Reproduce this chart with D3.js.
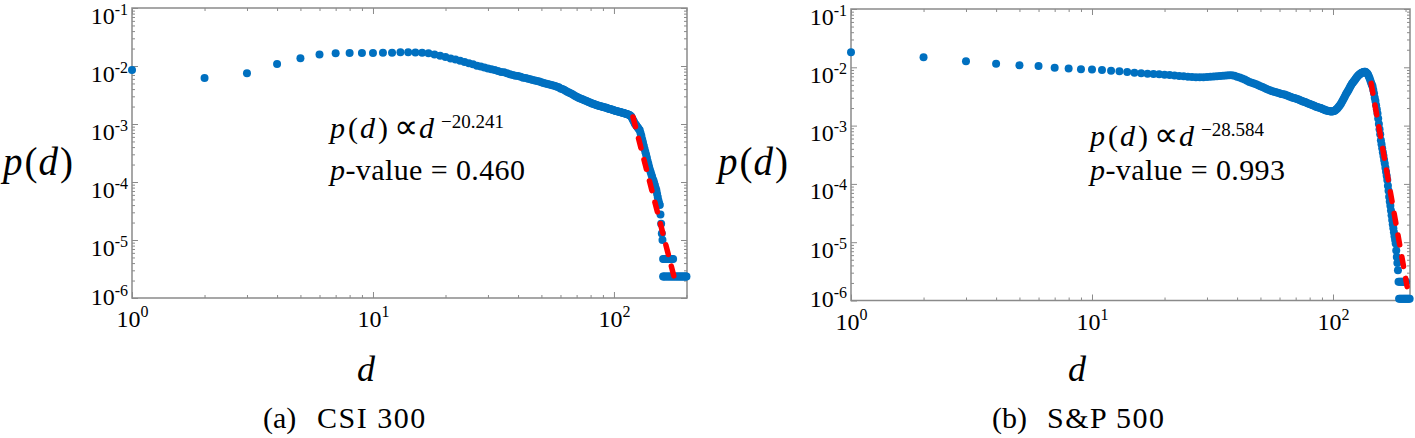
<!DOCTYPE html>
<html><head><meta charset="utf-8">
<script src="https://cdn.jsdelivr.net/npm/d3@7"></script>
<style>
html,body{margin:0;padding:0;background:#fff;}
svg{display:block;font-family:"Liberation Serif","Times New Roman",serif;}
</style></head><body>
<svg id="chart" width="1415" height="438"></svg>
<script>
// ---------------- DATA ----------------
// CSI 300: p(d) for d = 1 .. 159
const csiP = [
 8.5e-3,6.2e-3,7.5e-3,1.08e-2,1.36e-2,1.58e-2,1.66e-2,1.67e-2,1.67e-2,1.68e-2,
 1.69e-2,1.70e-2,1.72e-2,1.72e-2,1.71e-2,1.69e-2,1.66e-2,1.58e-2,1.50e-2,1.43e-2,
 1.35e-2,1.29e-2,1.23e-2,1.17e-2,1.12e-2,1.07e-2,1.01e-2,9.8e-3,9.4e-3,9.1e-3,
 8.8e-3,8.5e-3,8.2e-3,7.9e-3,7.8e-3,7.5e-3,7.2e-3,7.0e-3,6.8e-3,6.7e-3,
 6.5e-3,6.3e-3,6.2e-3,6.0e-3,5.9e-3,5.75e-3,5.6e-3,5.5e-3,5.4e-3,5.25e-3,
 5.1e-3,5.0e-3,4.9e-3,4.8e-3,4.7e-3,4.6e-3,4.5e-3,4.4e-3,4.3e-3,4.1e-3,
 4.0e-3,3.9e-3,3.75e-3,3.6e-3,3.5e-3,3.4e-3,3.3e-3,3.15e-3,3.05e-3,2.95e-3,
 2.85e-3,2.77e-3,2.72e-3,2.66e-3,2.6e-3,2.54e-3,2.48e-3,2.43e-3,2.37e-3,2.32e-3,
 2.26e-3,2.24e-3,2.19e-3,2.14e-3,2.11e-3,2.09e-3,2.04e-3,2.02e-3,2.0e-3,1.97e-3,
 1.95e-3,1.93e-3,1.9e-3,1.86e-3,1.84e-3,1.82e-3,1.8e-3,1.78e-3,1.74e-3,1.72e-3,
 1.70e-3,1.68e-3,1.66e-3,1.65e-3,1.63e-3,1.61e-3,1.59e-3,1.57e-3,1.56e-3,1.54e-3,
 1.52e-3,1.50e-3,1.49e-3,1.47e-3,1.45e-3,1.43e-3,1.39e-3,1.35e-3,1.26e-3,1.17e-3,
 1.10e-3,1.02e-3,9.8e-4,9.3e-4,8.9e-4,8.5e-4,8.1e-4,7.8e-4,6.9e-4,6.2e-4,
 5.4e-4,4.8e-4,4.2e-4,3.7e-4,3.3e-4,2.95e-4,2.63e-4,2.29e-4,2.04e-4,1.82e-4,
 1.62e-4,1.48e-4,1.35e-4,1.23e-4,1.12e-4,1.05e-4,9.5e-5,8.7e-5,7.9e-5,7.2e-5,
 6.3e-5,5.5e-5,4.8e-5,4.3e-5,4.0e-5,2.75e-5,1.9e-5,1.3e-5,1.0e-5
];
const csiTailD = [160,162,164,166,168,170,172,174,176,
                  160,161,163,165,167,169,171,173,175,177,179,181,183,185,187,189,191,193,195,197,199,200];
const csiTailP = [4.7e-6,4.7e-6,4.7e-6,4.7e-6,4.7e-6,4.7e-6,4.7e-6,4.7e-6,4.7e-6,
                  2.35e-6,2.35e-6,2.35e-6,2.35e-6,2.35e-6,2.35e-6,2.35e-6,2.35e-6,2.35e-6,2.35e-6,2.35e-6,
                  2.35e-6,2.35e-6,2.35e-6,2.35e-6,2.35e-6,2.35e-6,2.35e-6,2.35e-6,2.35e-6,2.35e-6,2.35e-6];
const csiFitD = [120, 179];
const csiFitP = [1.32e-3, 2.04e-6];

// S&P 500: p(d) for d = 1 .. 186
const spP = [
 1.81e-2,1.48e-2,1.27e-2,1.15e-2,1.08e-2,1.05e-2,9.8e-3,9.5e-3,9.3e-3,9.2e-3,
 9.0e-3,8.75e-3,8.55e-3,8.3e-3,8.1e-3,7.9e-3,7.75e-3,7.7e-3,7.6e-3,7.45e-3,
 7.35e-3,7.25e-3,7.1e-3,7.0e-3,6.9e-3,6.85e-3,6.75e-3,6.75e-3,6.75e-3,6.8e-3,
 6.9e-3,6.95e-3,7.0e-3,7.1e-3,7.15e-3,7.25e-3,7.3e-3,7.3e-3,7.15e-3,6.9e-3,
 6.7e-3,6.4e-3,6.15e-3,5.9e-3,5.6e-3,5.45e-3,5.25e-3,5.1e-3,4.9e-3,4.75e-3,
 4.6e-3,4.4e-3,4.25e-3,4.1e-3,4.0e-3,3.9e-3,3.8e-3,3.75e-3,3.65e-3,3.6e-3,
 3.5e-3,3.45e-3,3.4e-3,3.3e-3,3.25e-3,3.15e-3,3.1e-3,3.0e-3,2.98e-3,2.92e-3,
 2.85e-3,2.79e-3,2.72e-3,2.66e-3,2.6e-3,2.57e-3,2.51e-3,2.45e-3,2.4e-3,2.34e-3,
 2.29e-3,2.26e-3,2.21e-3,2.16e-3,2.11e-3,2.09e-3,2.04e-3,2.02e-3,2.0e-3,1.95e-3,
 1.9e-3,1.88e-3,1.84e-3,1.82e-3,1.8e-3,1.78e-3,1.76e-3,1.74e-3,1.74e-3,1.76e-3,
 1.78e-3,1.82e-3,1.88e-3,1.95e-3,2.04e-3,2.14e-3,2.26e-3,2.4e-3,2.57e-3,2.75e-3,
 2.95e-3,3.16e-3,3.4e-3,3.63e-3,3.85e-3,4.07e-3,4.37e-3,4.68e-3,4.95e-3,5.25e-3,
 5.5e-3,5.75e-3,6.0e-3,6.3e-3,6.6e-3,6.9e-3,7.15e-3,7.4e-3,7.6e-3,7.75e-3,
 7.95e-3,8.1e-3,8.2e-3,8.3e-3,8.35e-3,8.35e-3,8.2e-3,8.0e-3,7.75e-3,7.4e-3,
 6.9e-3,6.45e-3,5.9e-3,5.4e-3,5.0e-3,4.7e-3,4.07e-3,3.55e-3,3.0e-3,2.63e-3,
 2.24e-3,1.9e-3,1.62e-3,1.32e-3,1.07e-3,8.7e-4,7.1e-4,5.6e-4,4.8e-4,4.1e-4,
 3.5e-4,3.0e-4,2.57e-4,2.24e-4,1.9e-4,1.62e-4,1.38e-4,1.17e-4,9.3e-5,7.6e-5,
 6.0e-5,5.0e-5,4.2e-5,3.5e-5,2.9e-5,2.4e-5,2.04e-5,1.74e-5,1.48e-5,1.26e-5,
 1.1e-5,9.5e-6,7.2e-6,5.6e-6,4.4e-6,3.3e-6
];
const spTailD = [187,189,191,193,195,197,199,201,
                 188,190,192,194,196,198,200,202,204,206,208];
const spTailP = [2.1e-6,2.1e-6,2.1e-6,2.1e-6,2.1e-6,2.1e-6,2.1e-6,2.1e-6,
                 1.07e-6,1.07e-6,1.07e-6,1.07e-6,1.07e-6,1.07e-6,1.07e-6,1.07e-6,1.07e-6,1.07e-6,1.07e-6];
const spFitD = [144, 203];
const spFitP = [5.3e-3, 1.73e-6];

const yMajorTicks = [1e-1,1e-2,1e-3,1e-4,1e-5,1e-6];
const yTickExp = ["-1","-2","-3","-4","-5","-6"];
const xMajorTicks = [1,10,100];
const xTickExp = ["0","1","2"];
const captions = [["(a)","CSI 300"],["(b)","S&P 500"]];
const exponents = ["\u221220.241","\u221228.584"];
const pValues = ["0.460","0.993"];

// ---------------- LAYOUT ----------------
const panels = [
 {main:csiP, tailD:csiTailD, tailP:csiTailP, fitD:csiFitD, fitP:csiFitP, dMax:201,
  x0:132, x1:687, y0:8, y1:298, ylabX:3, xlabX:366, capX:[263,317], annX:330, annY:[138,180],
  cap:captions[0], exp:exponents[0], pv:pValues[0]},
 {main:spP, tailD:spTailD, tailP:spTailP, fitD:spFitD, fitP:spFitP, dMax:208.7,
  x0:851, x1:1410, y0:9, y1:300.5, ylabX:718, xlabX:1077, capX:[992,1047], annX:1090, annY:[146,180],
  cap:captions[1], exp:exponents[1], pv:pValues[1]}
];

const svg = d3.select("#chart");
svg.append("rect").attr("width",1415).attr("height",438).attr("fill","#fff");
const GRAY = "#8a8a8a";
const BLUE = "#0070c0";

panels.forEach(P => {
  const x = d3.scaleLog().domain([1, P.dMax]).range([P.x0, P.x1]);
  const y = d3.scaleLog().domain([1e-6, 1e-1]).range([P.y1, P.y0]);
  const g = svg.append("g");
  const minorX = x.ticks().filter(v => !xMajorTicks.includes(v));
  const minorY = y.ticks().filter(v => !yMajorTicks.some(m => Math.abs(m - v) / v < 1e-9));

  function styleAxis(sel){
    sel.select(".domain").remove();
    sel.selectAll(".tick line").attr("stroke", GRAY).attr("stroke-width", 1);
  }
  // minor ticks
  g.append("g").attr("transform",`translate(0,${P.y1})`)
    .call(d3.axisBottom(x).tickValues(minorX).tickSize(-3).tickFormat("")).call(styleAxis);
  g.append("g").attr("transform",`translate(0,${P.y0})`)
    .call(d3.axisTop(x).tickValues(minorX).tickSize(-3).tickFormat("")).call(styleAxis);
  g.append("g").attr("transform",`translate(${P.x0},0)`)
    .call(d3.axisLeft(y).tickValues(minorY).tickSize(-3).tickFormat("")).call(styleAxis);
  g.append("g").attr("transform",`translate(${P.x1},0)`)
    .call(d3.axisRight(y).tickValues(minorY).tickSize(-3).tickFormat("")).call(styleAxis);
  // major ticks
  g.append("g").attr("transform",`translate(0,${P.y0})`)
    .call(d3.axisTop(x).tickValues(xMajorTicks).tickSize(-6).tickFormat("")).call(styleAxis);
  g.append("g").attr("transform",`translate(${P.x1},0)`)
    .call(d3.axisRight(y).tickValues(yMajorTicks).tickSize(-6).tickFormat("")).call(styleAxis);

  const xa = g.append("g").attr("transform",`translate(0,${P.y1})`)
    .call(d3.axisBottom(x).tickValues(xMajorTicks).tickSize(-6).tickPadding(0).tickFormat(()=>"")).call(styleAxis);
  xa.selectAll(".tick text").each(function(d,i){
    const t = d3.select(this).attr("y", 29).attr("dy", null)
      .attr("fill","#000").attr("font-size",24).attr("font-family","Liberation Serif");
    t.append("tspan").text("10");
    t.append("tspan").attr("font-size",16).attr("dy",-10).text(xTickExp[i]);
  });
  const ya = g.append("g").attr("transform",`translate(${P.x0},0)`)
    .call(d3.axisLeft(y).tickValues(yMajorTicks).tickSize(-6).tickPadding(4).tickFormat(()=>"")).call(styleAxis);
  ya.selectAll(".tick text").each(function(d,i){
    const t = d3.select(this).attr("dy", null).attr("y", d === 1e-6 ? 6 : 15)
      .attr("fill","#000").attr("font-size",24).attr("font-family","Liberation Serif");
    t.append("tspan").text("10");
    t.append("tspan").attr("font-size",16).attr("dy",-9).text(yTickExp[i]);
  });

  // frame
  g.append("rect").attr("x",P.x0).attr("y",P.y0).attr("width",P.x1-P.x0).attr("height",P.y1-P.y0)
    .attr("fill","none").attr("stroke",GRAY).attr("stroke-width",1.5);

  // points
  const pts = P.main.map((p,i)=>({d:i+1,p})).concat(P.tailD.map((d,i)=>({d,p:P.tailP[i]})));
  g.append("g").selectAll("circle").data(pts).join("circle")
    .attr("cx", v => x(v.d)).attr("cy", v => y(v.p)).attr("r", 4).attr("fill", BLUE);

  // fit line
  const fit = P.fitD.map((d,i)=>({d,p:P.fitP[i]}));
  g.append("path").datum(fit)
    .attr("d", d3.line().x(v=>x(v.d)).y(v=>y(v.p)))
    .attr("fill","none").attr("stroke","#ff0000").attr("stroke-width",5.5)
    .attr("stroke-linecap","round").attr("stroke-dasharray","10,12");

  // y label p(d)
  const yl = g.append("text").attr("x",P.ylabX).attr("y",175).attr("font-size",39).attr("fill","#000");
  yl.append("tspan").attr("font-style","italic").text("p");
  yl.append("tspan").attr("dx",2).text("(");
  yl.append("tspan").attr("font-style","italic").attr("dx",1).text("d");
  yl.append("tspan").attr("dx",2).text(")");

  // x label d
  g.append("text").attr("x",P.xlabX).attr("y",381).attr("text-anchor","middle")
    .attr("font-size",36).attr("font-style","italic").attr("fill","#000").text("d");

  // captions
  g.append("text").attr("x",P.capX[0]).attr("y",428).attr("font-size",30).attr("fill","#000").text(P.cap[0]);
  g.append("text").attr("x",P.capX[1]).attr("y",428).attr("font-size",30).attr("letter-spacing",1.5)
    .attr("fill","#000").text(P.cap[1]);

  // annotation line 1
  const a1 = g.append("text").attr("x",P.annX).attr("y",P.annY[0]).attr("font-size",30).attr("fill","#000");
  a1.append("tspan").attr("font-style","italic").text("p");
  a1.append("tspan").attr("dx",3).text("(");
  a1.append("tspan").attr("font-style","italic").attr("dx",2).text("d");
  a1.append("tspan").attr("dx",3).text(")");
  a1.append("tspan").attr("x",P.annX+64).attr("font-size",34).text("\u221D");
  a1.append("tspan").attr("x",P.annX+89).attr("font-style","italic").text("d");
  a1.append("tspan").attr("x",P.annX+111).attr("dy",-10).attr("font-size",19).text(P.exp);
  // annotation line 2
  const a2 = g.append("text").attr("x",P.annX).attr("y",P.annY[1]).attr("font-size",30)
    .attr("letter-spacing",0.4).attr("fill","#000");
  a2.append("tspan").attr("font-style","italic").text("p");
  a2.append("tspan").text("-value = " + P.pv);
});
</script>
</body></html>
